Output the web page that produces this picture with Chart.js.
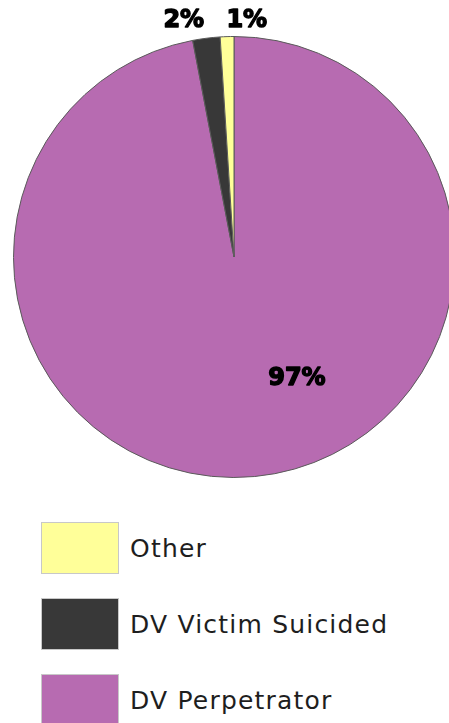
<!DOCTYPE html>
<html>
<head>
<meta charset="utf-8">
<script src="https://cdn.jsdelivr.net/npm/chart.js@4.4.1/dist/chart.umd.min.js"></script>
<style>
  html, body { margin: 0; padding: 0; background: #fff; overflow: hidden; width: 449px; height: 723px; }
  #pieWrap { position: absolute; left: 0; top: 0; }
  #legend { position: absolute; left: 41px; top: 510px; font-family: 'DejaVu Sans', sans-serif; }
  .item { display: flex; align-items: center; height: 76px; }
  .item .box { width: 76px; height: 50px; border: 1px solid #c8c8c8; box-sizing: content-box; }
  .item .txt { margin-left: 11px; font-size: 25px; letter-spacing: 1.2px; color: #1e1e1e; }
</style>
</head>
<body>
<div id="pieWrap"><canvas id="pie" width="468" height="480"></canvas></div>
<div id="legend"></div>
<script>
// slices, clockwise from 12 o'clock
const LABELS = ['DV Perpetrator', 'DV Victim Suicided', 'Other'];
const VALUES = [97, 2, 1];
const COLORS = ['#B76BB1', '#383838', '#FFFF99'];

// label anchors: angle shift from slice middle (deg) and fraction of radius
const LABEL_POS = [
  { shift: -22, r: 0.62 },
  { shift: -4.8, r: 1.096 },
  { shift: 4.9, r: 1.073 }
];

const pctLabels = {
  id: 'pctLabels',
  afterDatasetsDraw(chart) {
    const ctx = chart.ctx;
    const meta = chart.getDatasetMeta(0);
    const data = chart.data.datasets[0].data;
    const total = data.reduce((a, b) => a + b, 0);
    ctx.save();
    ctx.font = 'bold 24px "DejaVu Sans", sans-serif';
    ctx.fillStyle = '#000';
    ctx.strokeStyle = '#000';
    ctx.lineWidth = 1.4;
    ctx.lineJoin = 'round';
    ctx.textAlign = 'center';
    ctx.textBaseline = 'middle';
    meta.data.forEach((arc, i) => {
      const p = arc.getProps(['x', 'y', 'startAngle', 'endAngle', 'outerRadius'], true);
      const a = (p.startAngle + p.endAngle) / 2 + LABEL_POS[i].shift * Math.PI / 180;
      const rr = p.outerRadius * LABEL_POS[i].r;
      const txt = Math.round(data[i] / total * 100) + '%';
      const x = p.x + Math.cos(a) * rr, y = p.y + Math.sin(a) * rr;
      ctx.strokeText(txt, x, y);
      ctx.fillText(txt, x, y);
    });
    ctx.restore();
  }
};

new Chart(document.getElementById('pie'), {
  type: 'pie',
  data: {
    labels: LABELS,
    datasets: [{
      data: VALUES,
      backgroundColor: COLORS,
      borderColor: '#5a5a5a',
      borderWidth: 1
    }]
  },
  options: {
    responsive: false,
    animation: false,
    layout: { padding: { top: 36, bottom: 2 } },
    plugins: {
      legend: { display: false },
      tooltip: { enabled: false }
    }
  },
  plugins: [pctLabels]
});

// legend, listed bottom slice first
const legend = document.getElementById('legend');
for (let i = LABELS.length - 1; i >= 0; i--) {
  const row = document.createElement('div');
  row.className = 'item';
  row.innerHTML = '<div class="box" style="background:' + COLORS[i] + '"></div><span class="txt">' + LABELS[i] + '</span>';
  legend.appendChild(row);
}
</script>
</body>
</html>
